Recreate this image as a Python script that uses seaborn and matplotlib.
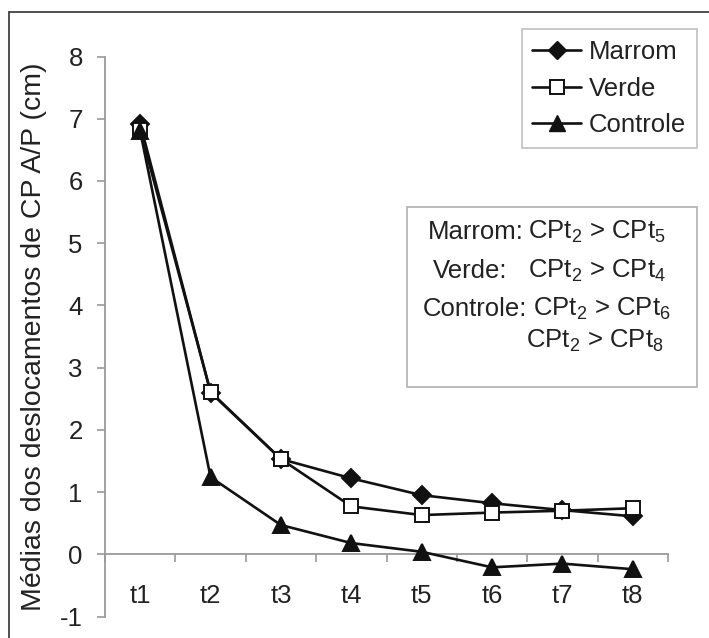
import numpy as np
import pandas as pd
import matplotlib
matplotlib.use("Agg")
import matplotlib.pyplot as plt
import seaborn as sns
from matplotlib.lines import Line2D
from matplotlib.patches import Rectangle

categories = ["t1", "t2", "t3", "t4", "t5", "t6", "t7", "t8"]
marrom = [6.92, 2.60, 1.53, 1.22, 0.95, 0.82, 0.71, 0.61]
verde = [6.82, 2.61, 1.53, 0.77, 0.63, 0.67, 0.70, 0.74]
controle = [6.80, 1.24, 0.47, 0.18, 0.04, -0.21, -0.15, -0.24]
series_names = ["Marrom", "Verde", "Controle"]
yticks = [-1, 0, 1, 2, 3, 4, 5, 6, 7, 8]
ylabel = "Médias dos deslocamentos de CP A/P (cm)"

sns.set_theme(style="white")
plt.rcParams["font.family"] = ["Liberation Sans", "DejaVu Sans"]
plt.rcParams["mathtext.fontset"] = "custom"
plt.rcParams["mathtext.rm"] = "Liberation Sans"
plt.rcParams["mathtext.it"] = "Liberation Sans"

FS = 18.5
TXT = "#222222"
W, H = 709, 638
fig = plt.figure(figsize=(W / 100, H / 100), dpi=100)
ax = fig.add_axes([105 / W, 1 - 616.5 / H, (668 - 105) / W, (616.5 - 56.5) / H])

x = np.arange(len(categories))
df = pd.DataFrame({
    "x": np.tile(x, 3),
    "v": marrom + verde + controle,
    "series": np.repeat(series_names, len(categories)),
})

markers = {"Marrom": "D", "Verde": "s", "Controle": "^"}
sizes = {"Marrom": 9, "Verde": 10, "Controle": 11}
for name in series_names:
    sub = df[df.series == name]
    sns.lineplot(data=sub, x="x", y="v", ax=ax, color="#111111", lw=1.9,
                 marker=markers[name], markersize=sizes[name],
                 markerfacecolor="white" if name == "Verde" else "#111111",
                 markeredgecolor="#111111", markeredgewidth=1.4,
                 legend=False, zorder=3)

ax.set_xlim(-0.5, len(categories) - 0.5)
ax.set_ylim(-1, 8)
ax.set_yticks(yticks)
ax.set_yticklabels([str(t) for t in yticks])
ax.set_xticks(x)
ax.set_xticklabels(categories)
ax.set_xticks(np.arange(-0.5, len(categories), 1.0), minor=True)
ax.set_xlabel("")
ax.set_ylabel(ylabel, fontsize=20.5, color=TXT, labelpad=9)

for s in ["top", "right"]:
    ax.spines[s].set_visible(False)
ax.spines["bottom"].set_position(("data", 0))
for s in ["bottom", "left"]:
    ax.spines[s].set_color("#9a9a9a")
    ax.spines[s].set_linewidth(1.3)

ax.tick_params(axis="y", which="major", direction="out", length=6, width=1.2,
               color="#9a9a9a", labelsize=FS, labelcolor=TXT, pad=10, left=True)
ax.tick_params(axis="x", which="major", length=0, labelsize=FS,
               labelcolor=TXT, pad=21.5, bottom=True)
ax.tick_params(axis="x", which="minor", direction="out", length=6, width=1.2,
               color="#9a9a9a", bottom=True)
ax.grid(False)

handles = [
    Line2D([], [], color="#111111", lw=1.9, marker="D", markersize=9,
           markerfacecolor="#111111", markeredgecolor="#111111"),
    Line2D([], [], color="#111111", lw=1.9, marker="s", markersize=10,
           markerfacecolor="white", markeredgecolor="#111111", markeredgewidth=1.4),
    Line2D([], [], color="#111111", lw=1.9, marker="^", markersize=11,
           markerfacecolor="#111111", markeredgecolor="#111111"),
]
leg = fig.legend(handles, series_names, loc="upper right",
                 bbox_to_anchor=(697 / W, 1 - 29 / H), fontsize=FS,
                 frameon=True, fancybox=False, handlelength=1.9,
                 handletextpad=0.3, labelspacing=0.5, borderpad=0.42,
                 borderaxespad=0)
leg.get_frame().set_edgecolor("#b0b0b0")
leg.get_frame().set_linewidth(1.2)
for t in leg.get_texts():
    t.set_color(TXT)

# annotation box
fig.patches.append(Rectangle((407 / W, 1 - 387 / H), (697 - 407) / W, (387 - 207) / H,
                             transform=fig.transFigure, fill=False,
                             edgecolor="#b0b0b0", lw=1.2))
lines = [
    ("Marrom:", 428, 232, r"CPt$_2$ > CPt$_5$", 528),
    ("Verde:", 433, 271, r"CPt$_2$ > CPt$_4$", 528),
    ("Controle:", 423, 309, r"CPt$_2$ > CPt$_6$", 533),
    ("", 423, 341, r"CPt$_2$ > CPt$_8$", 526),
]
for lab, lx, ly, expr, ex in lines:
    if lab:
        fig.text(lx / W, 1 - ly / H, lab, fontsize=FS, color=TXT,
                 ha="left", va="center")
    fig.text(ex / W, 1 - ly / H, expr, fontsize=FS, color=TXT,
             ha="left", va="center")

# outer frame (top and left visible)
fig.add_artist(Line2D([9 / W, 9 / W], [0, 1 - 12 / H], transform=fig.transFigure,
                      color="#333333", lw=1.2))
fig.add_artist(Line2D([9 / W, 1], [1 - 12 / H, 1 - 12 / H], transform=fig.transFigure,
                      color="#333333", lw=1.2))

fig.savefig("out.png", dpi=100)
